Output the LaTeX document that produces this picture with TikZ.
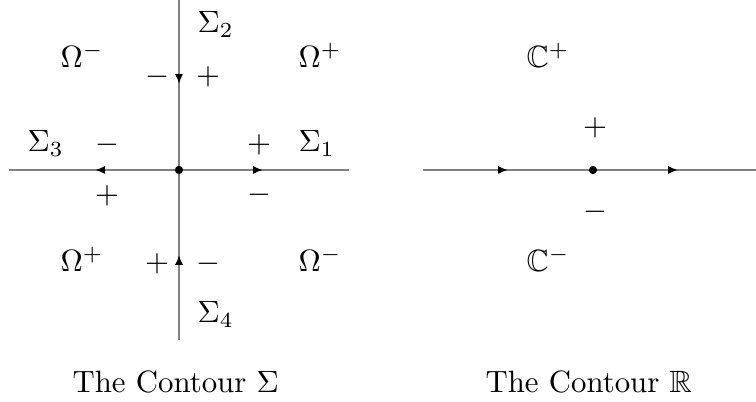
\documentclass[tikz,border=0pt]{standalone}
\usepackage{amssymb}
\usetikzlibrary{arrows.meta}
\begin{document}
\begin{tikzpicture}[x=0.3247pt,y=-0.3247pt,
  ax/.style={draw=black!50, line width=0.6pt},
  tipd/.style={-{Latex[length=3.2pt,width=2.6pt,color=black]}},
  lab/.style={anchor=base west, inner sep=0pt},
  sgn/.style={inner sep=0pt},
  dot/.style={circle, fill=black, inner sep=0pt, minimum size=2.7pt}]
\useasboundingbox (0,0) rectangle (756,402);
% ---- left: the contour Sigma
\coordinate (O) at (179,170);
\coordinate (W) at (9,170);
\coordinate (E) at (349,170);
\coordinate (N) at (179,0);
\coordinate (S) at (179,340);
\coordinate (aN) at (179,84);
\coordinate (aW) at (95,170);
\coordinate (aE) at (263,170);
\coordinate (aS) at (179,255);
\draw[ax] (N) -- (S);
\draw[ax] (W) -- (E);
\draw[ax,tipd] (N) -- (aN);
\draw[ax,tipd] (O) -- (aW);
\draw[ax,tipd] (O) -- (aE);
\draw[ax,tipd] (S) -- (aS);
\node[dot] (dotL) at (O) {};
\node[lab] (s2) at (197,33) {$\Sigma_2$};
\node[lab] (s1) at (298,152) {$\Sigma_1$};
\node[lab] (s3) at (27,152) {$\Sigma_3$};
\node[lab] (s4) at (197,323) {$\Sigma_4$};
\node[lab] (om1) at (60,68) {$\Omega^-$};
\node[lab] (om2) at (298,68) {$\Omega^+$};
\node[lab] (om3) at (60,272) {$\Omega^+$};
\node[lab] (om4) at (298,272) {$\Omega^-$};
\node[sgn] (m1) at (157,77) {$-$};
\node[sgn] (p1) at (208,77) {$+$};
\node[sgn] (m2) at (107,145) {$-$};
\node[sgn] (p2) at (259,145) {$+$};
\node[sgn] (p3) at (107,196) {$+$};
\node[sgn] (m3) at (259,195) {$-$};
\node[sgn] (p4) at (157,264) {$+$};
\node[sgn] (m4) at (208,264) {$-$};
\node[lab] (capL) at (72,393) {The Contour $\Sigma$};
% ---- right: the contour R
\coordinate (O2) at (593,170);
\coordinate (W2) at (423,170);
\coordinate (E2) at (756,170);
\coordinate (b1) at (508,170);
\coordinate (b2) at (678,170);
\draw[ax] (W2) -- (E2);
\draw[ax,tipd] (W2) -- (b1);
\draw[ax,tipd] (O2) -- (b2);
\node[dot] (dotR) at (O2) {};
\node[lab] (cp) at (526,68) {$\mathbb{C}^+$};
\node[lab] (cm) at (526,272) {$\mathbb{C}^-$};
\node[sgn] (p5) at (595,128) {$+$};
\node[sgn] (m5) at (595,212) {$-$};
\node[lab] (capR) at (485,393) {The Contour $\mathbb{R}$};
\end{tikzpicture}
\end{document}
